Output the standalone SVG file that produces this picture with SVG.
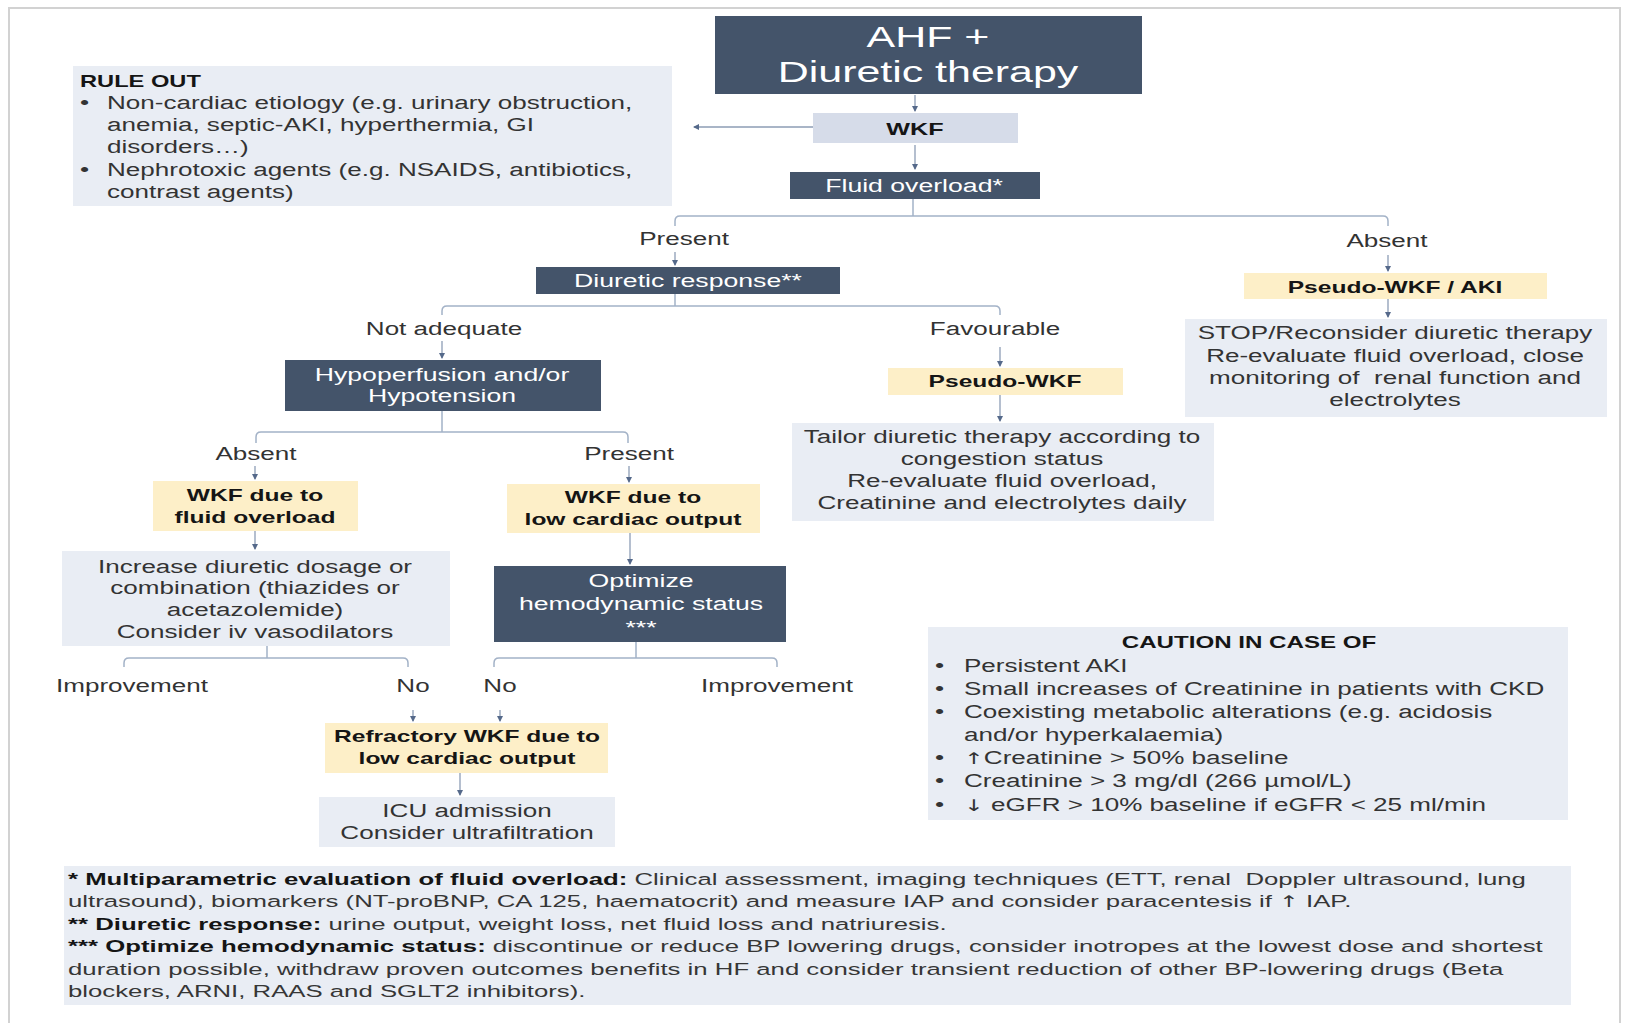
<svg xmlns="http://www.w3.org/2000/svg" width="1630" height="1023" viewBox="0 0 1630 1023">
  <style>
    .t { font-family: "Liberation Sans", Arial, sans-serif; font-size: 17.6px; fill: #333333; }
    .c { text-anchor: middle; }
    .w { fill: #ffffff; font-size: 18px; }
    .b { font-weight: bold; fill: #151515; font-size: 16.6px; }
    .fn { font-size: 17.4px; fill: #363636; }
    .fb { font-weight: bold; fill: #151515; }
    .sym { font-family: "DejaVu Sans", sans-serif; font-size: 16px; }
    .dark { fill: #44546a; }
    .light { fill: #e9edf4; }
    .blue { fill: #d6dce9; }
    .yel { fill: #fdefc8; }
    .conn { fill: none; stroke: #a3b2c7; stroke-width: 1.5; }
    .arr { fill: none; stroke: #8d9db5; stroke-width: 1.3; marker-end: url(#ah); }
  </style>
  <defs>
    <marker id="ah" viewBox="0 0 6 6" refX="5" refY="3" markerWidth="6" markerHeight="6" orient="auto" markerUnits="userSpaceOnUse">
      <path d="M0,0 L6,3 L0,6 z" fill="#55698a"/>
    </marker>
  </defs>

  <!-- page -->
  <rect x="0" y="0" width="1630" height="1023" fill="#ffffff"/>
  <rect x="9" y="8" width="1611" height="1040" fill="#ffffff" stroke="#d2d2d2" stroke-width="2"/>

  <!-- connectors -->
  <g id="connectors">
    <path class="arr" d="M915,95 V111"/>
    <path class="arr" d="M915,145 V169"/>
    <path class="arr" d="M813,127 H694"/>
    <path class="conn" d="M913,199 V216 M675,226 V221 Q675,216 680,216 H1383 Q1388,216 1388,221 V226"/>
    <path class="arr" d="M675,252 V265"/>
    <path class="arr" d="M1388,255 V271"/>
    <path class="conn" d="M675,294 V306 M442,315 V311 Q442,306 447,306 H995 Q1000,306 1000,311 V315"/>
    <path class="arr" d="M442,341 V358"/>
    <path class="arr" d="M1000,347 V366"/>
    <path class="arr" d="M1388,299 V317"/>
    <path class="arr" d="M1000,395 V421"/>
    <path class="conn" d="M442,411 V432 M256,443 V437 Q256,432 261,432 H623 Q628,432 628,437 V443"/>
    <path class="arr" d="M255,466 V479"/>
    <path class="arr" d="M629,466 V482"/>
    <path class="arr" d="M255,531 V549"/>
    <path class="arr" d="M630,533 V564"/>
    <path class="conn" d="M267,646 V658 M124,667 V663 Q124,658 129,658 H403 Q408,658 408,663 V667"/>
    <path class="conn" d="M636,642 V658 M494,667 V663 Q494,658 499,658 H772 Q777,658 777,663 V667"/>
    <path class="arr" d="M413,710 V721"/>
    <path class="arr" d="M500,710 V721"/>
    <path class="arr" d="M460,773 V795"/>
  </g>

  <!-- branch labels -->
  <g id="labels">
    <text class="t c" transform="matrix(1.48 0 0 1 684 0)"><tspan x="0" y="245">Present</tspan></text>
    <text class="t c" transform="matrix(1.48 0 0 1 1387 0)"><tspan x="0" y="247">Absent</tspan></text>
    <text class="t c" transform="matrix(1.48 0 0 1 444 0)"><tspan x="0" y="335">Not adequate</tspan></text>
    <text class="t c" transform="matrix(1.48 0 0 1 995 0)"><tspan x="0" y="335">Favourable</tspan></text>
    <text class="t c" transform="matrix(1.48 0 0 1 256 0)"><tspan x="0" y="460">Absent</tspan></text>
    <text class="t c" transform="matrix(1.48 0 0 1 629 0)"><tspan x="0" y="460">Present</tspan></text>
    <text class="t c" transform="matrix(1.48 0 0 1 132 0)"><tspan x="0" y="692">Improvement</tspan></text>
    <text class="t c" transform="matrix(1.48 0 0 1 413 0)"><tspan x="0" y="692">No</tspan></text>
    <text class="t c" transform="matrix(1.48 0 0 1 500 0)"><tspan x="0" y="692">No</tspan></text>
    <text class="t c" transform="matrix(1.48 0 0 1 777 0)"><tspan x="0" y="692">Improvement</tspan></text>
  </g>

  <!-- nodes -->
  <g id="ahf">
    <rect class="dark" x="715" y="16" width="427" height="78"/>
    <text class="t c w" style="font-size:29px" transform="matrix(1.48 0 0 1 928 0)"><tspan x="0" y="47">AHF +</tspan><tspan x="0" y="82">Diuretic therapy</tspan></text>
  </g>

  <g id="wkf">
    <rect class="blue" x="813" y="113" width="205" height="30"/>
    <text class="t c b" style="font-size:17px" transform="matrix(1.48 0 0 1 915 0)"><tspan x="0" y="135">WKF</tspan></text>
  </g>

  <g id="rule-out">
    <rect class="light" x="73" y="66" width="599" height="140"/>
    <text class="t b" style="font-size:16px" transform="matrix(1.48 0 0 1 80 0)"><tspan x="0" y="87">RULE OUT</tspan></text>
    <text class="t" transform="matrix(1.48 0 0 1 80 0)"><tspan x="0" y="109">•</tspan><tspan x="0" y="176">•</tspan></text>
    <text class="t" transform="matrix(1.48 0 0 1 107 0)"><tspan x="0" y="109">Non-cardiac etiology (e.g. urinary obstruction,</tspan><tspan x="0" y="131">anemia, septic-AKI, hyperthermia, GI</tspan><tspan x="0" y="153">disorders…)</tspan><tspan x="0" y="176">Nephrotoxic agents (e.g. NSAIDS, antibiotics,</tspan><tspan x="0" y="198">contrast agents)</tspan></text>
  </g>

  <g id="fluid-overload">
    <rect class="dark" x="790" y="172" width="250" height="27"/>
    <text class="t c w" transform="matrix(1.48 0 0 1 914 0)"><tspan x="0" y="192">Fluid overload*</tspan></text>
  </g>

  <g id="diuretic-response">
    <rect class="dark" x="536" y="267" width="304" height="27"/>
    <text class="t c w" transform="matrix(1.48 0 0 1 688 0)"><tspan x="0" y="287">Diuretic response**</tspan></text>
  </g>

  <g id="pseudo-wkf-aki">
    <rect class="yel" x="1244" y="273" width="303" height="26"/>
    <text class="t c b" transform="matrix(1.48 0 0 1 1395 0)"><tspan x="0" y="293">Pseudo-WKF / AKI</tspan></text>
  </g>

  <g id="stop-diuretic">
    <rect class="light" x="1185" y="319" width="422" height="98"/>
    <text class="t c" transform="matrix(1.48 0 0 1 1395 0)"><tspan x="0" y="339">STOP/Reconsider diuretic therapy</tspan><tspan x="0" y="362">Re-evaluate fluid overload, close</tspan><tspan x="0" y="384">monitoring of &#160;renal function and</tspan><tspan x="0" y="406">electrolytes</tspan></text>
  </g>

  <g id="hypoperfusion">
    <rect class="dark" x="285" y="360" width="316" height="51"/>
    <text class="t c w" transform="matrix(1.48 0 0 1 442 0)"><tspan x="0" y="381">Hypoperfusion and/or</tspan><tspan x="0" y="402">Hypotension</tspan></text>
  </g>

  <g id="pseudo-wkf">
    <rect class="yel" x="888" y="368" width="235" height="27"/>
    <text class="t c b" transform="matrix(1.48 0 0 1 1005 0)"><tspan x="0" y="387">Pseudo-WKF</tspan></text>
  </g>

  <g id="tailor-therapy">
    <rect class="light" x="792" y="423" width="422" height="98"/>
    <text class="t c" transform="matrix(1.48 0 0 1 1002 0)"><tspan x="0" y="443">Tailor diuretic therapy according to</tspan><tspan x="0" y="465">congestion status</tspan><tspan x="0" y="487">Re-evaluate fluid overload,</tspan><tspan x="0" y="509">Creatinine and electrolytes daily</tspan></text>
  </g>

  <g id="wkf-fluid-overload">
    <rect class="yel" x="153" y="481" width="205" height="50"/>
    <text class="t c b" transform="matrix(1.48 0 0 1 255 0)"><tspan x="0" y="501">WKF due to</tspan><tspan x="0" y="523">fluid overload</tspan></text>
  </g>

  <g id="wkf-low-output">
    <rect class="yel" x="507" y="484" width="253" height="49"/>
    <text class="t c b" transform="matrix(1.48 0 0 1 633 0)"><tspan x="0" y="503">WKF due to</tspan><tspan x="0" y="525">low cardiac output</tspan></text>
  </g>

  <g id="increase-diuretic">
    <rect class="light" x="62" y="551" width="388" height="95"/>
    <text class="t c" transform="matrix(1.48 0 0 1 255 0)"><tspan x="0" y="573">Increase diuretic dosage or</tspan><tspan x="0" y="594">combination (thiazides or</tspan><tspan x="0" y="616">acetazolemide)</tspan><tspan x="0" y="638">Consider iv vasodilators</tspan></text>
  </g>

  <g id="optimize-hemodynamic">
    <rect class="dark" x="494" y="566" width="292" height="76"/>
    <text class="t c w" transform="matrix(1.48 0 0 1 641 0)"><tspan x="0" y="587">Optimize</tspan><tspan x="0" y="610">hemodynamic status</tspan><tspan x="0" y="634">***</tspan></text>
  </g>

  <g id="refractory-wkf">
    <rect class="yel" x="325" y="723" width="283" height="50"/>
    <text class="t c b" transform="matrix(1.48 0 0 1 467 0)"><tspan x="0" y="742">Refractory WKF due to</tspan><tspan x="0" y="764">low cardiac output</tspan></text>
  </g>

  <g id="icu-admission">
    <rect class="light" x="319" y="797" width="296" height="50"/>
    <text class="t c" transform="matrix(1.48 0 0 1 467 0)"><tspan x="0" y="817">ICU admission</tspan><tspan x="0" y="839">Consider ultrafiltration</tspan></text>
  </g>

  <g id="caution">
    <rect class="light" x="928" y="627" width="640" height="193"/>
    <text class="t c b" style="font-size:16.3px" transform="matrix(1.48 0 0 1 1249 0)"><tspan x="0" y="648">CAUTION IN CASE OF</tspan></text>
    <text class="t" transform="matrix(1.48 0 0 1 935 0)"><tspan x="0" y="672">•</tspan><tspan x="0" y="695">•</tspan><tspan x="0" y="718">•</tspan><tspan x="0" y="764">•</tspan><tspan x="0" y="787">•</tspan><tspan x="0" y="811">•</tspan></text>
    <text class="t" transform="matrix(1.48 0 0 1 964 0)"><tspan x="0" y="672">Persistent AKI</tspan><tspan x="0" y="695">Small increases of Creatinine in patients with CKD</tspan><tspan x="0" y="718">Coexisting metabolic alterations (e.g. acidosis</tspan><tspan x="0" y="741">and/or hyperkalaemia)</tspan><tspan x="0" y="764"><tspan class="sym">↑</tspan>Creatinine &gt; 50% baseline</tspan><tspan x="0" y="787">Creatinine &gt; 3 mg/dl (266 µmol/L)</tspan><tspan x="0" y="811"><tspan class="sym">↓</tspan> eGFR &gt; 10% baseline if eGFR &lt; 25 ml/min</tspan></text>
  </g>

  <g id="footnotes">
    <rect class="light" x="64" y="866" width="1507" height="139"/>
    <text class="t fn" transform="matrix(1.48 0 0 1 68 0)"><tspan x="0" y="885"><tspan class="fb">* Multiparametric evaluation of fluid overload:</tspan> Clinical assessment, imaging techniques (ETT, renal &#160;Doppler ultrasound, lung</tspan><tspan x="0" y="907.4">ultrasound), biomarkers (NT-proBNP, CA 125, haematocrit) and measure IAP and consider paracentesis if <tspan class="sym">↑</tspan> IAP.</tspan><tspan x="0" y="929.8"><tspan class="fb">** Diuretic response:</tspan> urine output, weight loss, net fluid loss and natriuresis.</tspan><tspan x="0" y="952.2"><tspan class="fb">*** Optimize hemodynamic status:</tspan> discontinue or reduce BP lowering drugs, consider inotropes at the lowest dose and shortest</tspan><tspan x="0" y="974.6">duration possible, withdraw proven outcomes benefits in HF and consider transient reduction of other BP-lowering drugs (Beta</tspan><tspan x="0" y="997">blockers, ARNI, RAAS and SGLT2 inhibitors).</tspan></text>
  </g>
</svg>
